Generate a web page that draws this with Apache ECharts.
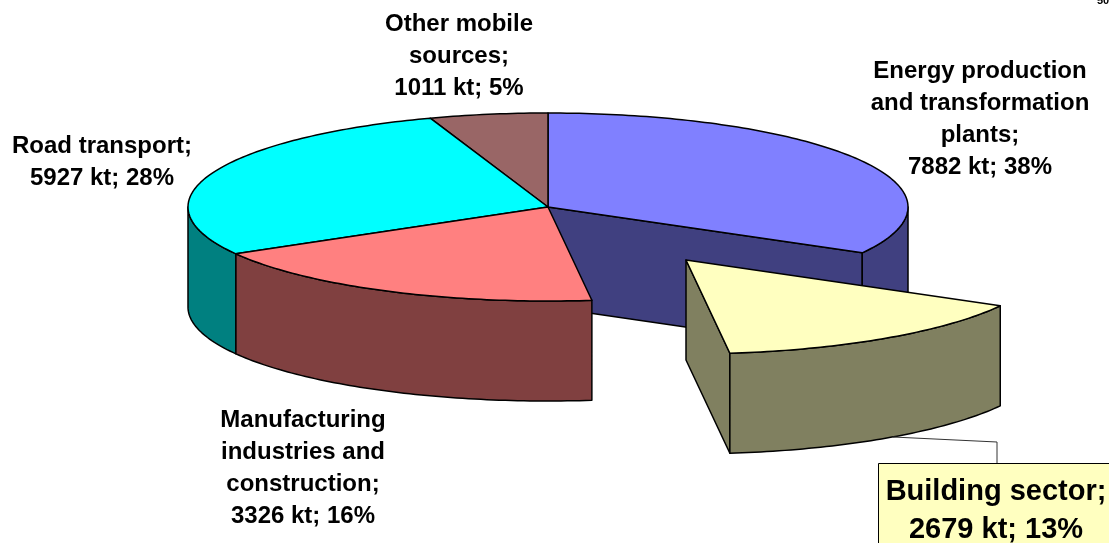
<!DOCTYPE html>
<html>
<head>
<meta charset="utf-8">
<title>Emissions by sector</title>
<style>
    html, body { margin: 0; padding: 0; background: #fff; }
    #chart { width: 1109px; height: 543px; }
</style>
<script src="https://cdn.jsdelivr.net/npm/echarts@6/dist/echarts.min.js"></script>
</head>
<body>
<div id="chart"></div>
<script>
var categories = [
    'Energy production\nand transformation\nplants',
    'Building sector',
    'Manufacturing\nindustries and\nconstruction',
    'Road transport',
    'Other mobile\nsources'
];
var valuesKt = [7882, 2679, 3326, 5927, 1011];
var percents = [38, 13, 16, 28, 5];
// the slices in the picture are not drawn in proportion to their labels,
// so the arc of each one is read off the picture separately (degrees)
var sliceDegrees = [119.2, 53.8, 67.1, 100.8, 19.1];

var topColors = ['#8080ff', '#ffffc0', '#ff8080', '#00ffff', '#996666'];
var sideColors = ['#404080', '#808060', '#804040', '#008080', '#664444'];
// painter order, back of the pie first
var drawRank = [0, 4, 3, 2, 1];

var cx = 548, cy = 207, rx = 360, ry = 94, depth = 100;
var explode = [[0, 0], [138, 53], [0, 0], [0, 0], [0, 0]];
var labelPos = [[980, 119], [996, 511], [303, 468], [102, 162], [459, 56]];
var edge = { stroke: '#000', lineWidth: 1.5, lineJoin: 'round' };

var starts = [];
sliceDegrees.reduce(function (sum, d, i) {
    starts[i] = sum;
    return sum + d;
}, 0);

function rimPoint(deg, ox, oy, drop) {
    var t = deg * Math.PI / 180;
    return [cx + ox + rx * Math.sin(t), cy + oy + drop - ry * Math.cos(t)];
}

function arcPoints(from, to, ox, oy, drop) {
    var pts = [];
    var n = Math.max(2, Math.ceil(Math.abs(to - from)));
    for (var k = 0; k <= n; k++) {
        pts.push(rimPoint(from + (to - from) * k / n, ox, oy, drop));
    }
    return pts;
}

function poly(points, fill, z2) {
    return {
        type: 'polygon',
        z2: z2,
        shape: { points: points },
        style: Object.assign({ fill: fill }, edge)
    };
}

function renderSlice(params) {
    var i = params.dataIndex;
    var from = starts[i], to = from + sliceDegrees[i];
    var ox = explode[i][0], oy = explode[i][1];
    var apex = [cx + ox, cy + oy];
    var z = drawRank[i] * 10;
    var children = [];

    // cut face at the clockwise end of the slice
    if (to < 180) {
        var rimEnd = rimPoint(to, ox, oy, 0);
        children.push(poly([
            apex, rimEnd,
            [rimEnd[0], rimEnd[1] + depth],
            [apex[0], apex[1] + depth]
        ], sideColors[i], z));
    }
    // outer wall, only the front half of the pie shows
    var wallFrom = Math.max(from, 90), wallTo = Math.min(to, 270);
    if (wallTo > wallFrom) {
        var wall = arcPoints(wallFrom, wallTo, ox, oy, 0)
            .concat(arcPoints(wallTo, wallFrom, ox, oy, depth));
        children.push(poly(wall, sideColors[i], z + 1));
    }
    // top
    children.push(poly([apex].concat(arcPoints(from, to, ox, oy, 0)), topColors[i], z + 2));

    var text = categories[i] + ';\n' + valuesKt[i] + ' kt; ' + percents[i] + '%';
    var isBuilding = i === 1;
    if (isBuilding) {
        children.push({
            type: 'polyline',
            z2: 60,
            shape: { points: [[893, 437], [997, 442], [997, 463]] },
            style: { fill: 'none', stroke: '#333', lineWidth: 1 }
        });
        children.push({
            type: 'rect',
            z2: 61,
            shape: { x: 878.5, y: 463.5, width: 240, height: 90 },
            style: { fill: topColors[i], stroke: '#000', lineWidth: 1 }
        });
    }
    children.push({
        type: 'text',
        z2: 62,
        style: {
            text: text,
            x: labelPos[i][0],
            y: labelPos[i][1],
            align: 'center',
            verticalAlign: 'middle',
            fill: '#000',
            font: 'bold ' + (isBuilding ? 29 : 24) + 'px "Liberation Sans"',
            lineHeight: isBuilding ? 38 : 32
        }
    });
    return { type: 'group', children: children };
}

var chart = echarts.init(document.getElementById('chart'));
chart.setOption({
    animation: false,
    backgroundColor: '#fff',
    tooltip: { show: false },
    // stray corner of a clipped label in the source picture
    graphic: [{
        type: 'text',
        silent: true,
        style: {
            text: '50',
            x: 1097,
            y: -5,
            fill: '#000',
            font: 'bold 11px "Liberation Sans"'
        }
    }],
    series: [{
        type: 'custom',
        coordinateSystem: 'none',
        silent: true,
        clip: false,
        renderItem: renderSlice,
        data: valuesKt
    }]
});
</script>
</body>
</html>
